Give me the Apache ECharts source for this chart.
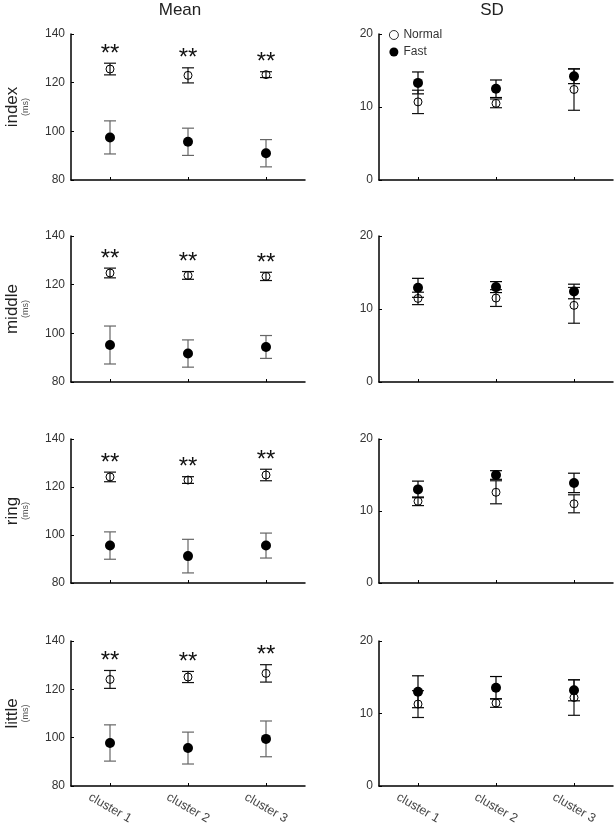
<!DOCTYPE html>
<html>
<head>
<meta charset="utf-8">
<script src="https://cdn.jsdelivr.net/npm/echarts@6/dist/echarts.min.js"></script>
<style>
  html, body { margin: 0; padding: 0; background: #fff; }
  #main { width: 614px; height: 831px; }
</style>
</head>
<body>
<div id="main"></div>
<script>
// categories and row names
const clusters = ['cluster 1', 'cluster 2', 'cluster 3']
const fingers = ['index', 'middle', 'ring', 'little']

// Mean (ms), one row per finger
const meanNormal = [[125.6, 123.0, 123.3], [124.8, 123.8, 123.4], [124.2, 122.9, 125.0], [124.1, 125.1, 126.6]]
const meanNormalErr = [[2.4, 3.1, 1.2], [2.0, 1.6, 1.7], [2.0, 1.4, 2.4], [3.7, 2.3, 3.6]]
const meanFast = [[97.5, 95.7, 91.0], [95.2, 91.7, 94.4], [95.6, 91.2, 95.6], [97.8, 95.7, 99.5]]
const meanFastErr = [[6.8, 5.6, 5.6], [7.8, 5.6, 4.7], [5.7, 7.0, 5.2], [7.5, 6.6, 7.4]]
// significance marks above the Normal means
const meanSig = [['**', '**', '**'], ['**', '**', '**'], ['**', '**', '**'], ['**', '**', '**']]

// SD (ms)
const sdNormal = [[10.7, 10.5, 12.4], [11.45, 11.5, 10.5], [11.35, 12.6, 11.0], [11.3, 11.45, 12.2]]
const sdNormalErr = [[1.6, 0.6, 2.85], [0.85, 1.15, 2.45], [0.6, 1.6, 1.25], [1.85, 0.6, 2.45]]
const sdFast = [[13.3, 12.5, 14.2], [12.9, 13.0, 12.4], [13.0, 15.0, 13.9], [13.0, 13.55, 13.2]]
const sdFastErr = [[1.5, 1.2, 1.0], [1.3, 0.75, 1.0], [1.15, 0.6, 1.35], [2.2, 1.55, 1.45]]

// axis ranges
const meanTicks = { min: 80, max: 140, interval: 20 }
const sdTicks = { min: 0, max: 20, interval: 10 }

const FONT = "'Liberation Sans', Arial, sans-serif"
const myChart = echarts.init(document.getElementById('main'))

const gridTops = [34, 236, 439, 641]
const gridHeights = [146, 146, 144, 145]
const colLeft = [71, 379]

const grid = []
const xAxis = []
const yAxis = []
const series = []

function errData (vals, errs) {
  return vals.map((v, i) => [i, v - errs[i], v + errs[i]])
}

function errorSeries (idx, data, color) {
  return {
    type: 'custom',
    xAxisIndex: idx,
    yAxisIndex: idx,
    data: data,
    z: 2,
    renderItem: function (params, api) {
      const x = api.value(0)
      const lo = api.coord([x, api.value(1)])
      const hi = api.coord([x, api.value(2)])
      const w = 6
      const style = { stroke: color, lineWidth: 1.2 }
      return {
        type: 'group',
        children: [
          { type: 'line', shape: { x1: lo[0], y1: lo[1], x2: hi[0], y2: hi[1] }, style: style },
          { type: 'line', shape: { x1: hi[0] - w, y1: hi[1], x2: hi[0] + w, y2: hi[1] }, style: style },
          { type: 'line', shape: { x1: lo[0] - w, y1: lo[1], x2: lo[0] + w, y2: lo[1] }, style: style }
        ]
      }
    }
  }
}

for (let r = 0; r < 4; r++) {
  for (let c = 0; c < 2; c++) {
    const idx = r * 2 + c
    const ticks = c === 0 ? meanTicks : sdTicks
    grid.push({ left: colLeft[c], top: gridTops[r], width: 234, height: gridHeights[r] })
    xAxis.push({
      type: 'category',
      gridIndex: idx,
      data: clusters,
      boundaryGap: true,
      axisLine: { lineStyle: { color: '#000', width: 1.5 } },
      axisTick: { show: true, inside: true, length: 3, alignWithLabel: true, lineStyle: { color: '#000' } },
      axisLabel: {
        show: r === 3,
        rotate: -30,
        align: 'center',
        verticalAlign: 'middle',
        margin: 22,
        fontSize: 12.5,
        fontFamily: FONT,
        color: '#444'
      },
      splitLine: { show: false }
    })
    yAxis.push({
      type: 'value',
      gridIndex: idx,
      min: ticks.min,
      max: ticks.max,
      interval: ticks.interval,
      name: c === 0 ? '{a|' + fingers[r] + '}\n{b|(ms)}' : '',
      nameLocation: 'middle',
      nameRotate: 90,
      nameGap: 40,
      nameTextStyle: {
        rich: {
          a: { fontSize: 17, fontFamily: FONT, color: '#222', lineHeight: 18, align: 'center' },
          b: { fontSize: 9, fontFamily: FONT, color: '#555', lineHeight: 10, align: 'center' }
        }
      },
      axisLine: { show: true, lineStyle: { color: '#000', width: 1.5 } },
      axisTick: { show: true, inside: true, length: 3, lineStyle: { color: '#000' } },
      axisLabel: { fontSize: 12, fontFamily: FONT, color: '#333', margin: 6 },
      splitLine: { show: false }
    })

    const nVals = c === 0 ? meanNormal[r] : sdNormal[r]
    const nErr = c === 0 ? meanNormalErr[r] : sdNormalErr[r]
    const fVals = c === 0 ? meanFast[r] : sdFast[r]
    const fErr = c === 0 ? meanFastErr[r] : sdFastErr[r]

    series.push(errorSeries(idx, errData(fVals, fErr), c === 0 ? '#666' : '#000'))
    series.push(errorSeries(idx, errData(nVals, nErr), '#111'))
    series.push({
      name: 'Fast',
      type: 'scatter',
      xAxisIndex: idx,
      yAxisIndex: idx,
      data: fVals,
      symbol: 'circle',
      symbolSize: 10,
      z: 3,
      itemStyle: { color: '#000', opacity: 1 }
    })
    series.push({
      name: 'Normal',
      type: 'scatter',
      xAxisIndex: idx,
      yAxisIndex: idx,
      data: nVals,
      symbol: 'circle',
      symbolSize: 8,
      z: 3,
      itemStyle: { color: 'rgba(255,255,255,0)', borderColor: '#000', borderWidth: 1, opacity: 1 }
    })

    if (c === 0) {
      // "**" above the Normal error bar
      series.push({
        type: 'custom',
        xAxisIndex: idx,
        yAxisIndex: idx,
        data: nVals.map((v, i) => [i, v + nErr[i]]),
        z: 4,
        renderItem: function (params, api) {
          const p = api.coord([api.value(0), api.value(1)])
          return {
            type: 'text',
            x: p[0],
            y: p[1] - 9,
            style: {
              text: meanSig[r][params.dataIndex],
              align: 'center',
              verticalAlign: 'middle',
              fontSize: 24,
              fontFamily: FONT,
              fill: '#111'
            }
          }
        }
      })
    }
  }
}

const option = {
  animation: false,
  backgroundColor: '#fff',
  legend: {
    data: [
      { name: 'Normal', itemStyle: { color: '#fff', borderColor: '#000', borderWidth: 0.8 } },
      { name: 'Fast', itemStyle: { color: '#000', borderWidth: 0 } }
    ],
    orient: 'vertical',
    left: 384,
    top: 24,
    itemWidth: 9,
    itemHeight: 9,
    itemGap: 5,
    textStyle: { fontSize: 12, fontFamily: FONT, color: '#333' }
  },
  graphic: [
    { type: 'text', x: 180, y: 10, style: { text: 'Mean', align: 'center', verticalAlign: 'middle', fontSize: 17, fontFamily: FONT, fill: '#222' } },
    { type: 'text', x: 492, y: 10, style: { text: 'SD', align: 'center', verticalAlign: 'middle', fontSize: 17, fontFamily: FONT, fill: '#222' } }
  ],
  grid: grid,
  xAxis: xAxis,
  yAxis: yAxis,
  series: series
}

myChart.setOption(option)
</script>
</body>
</html>
